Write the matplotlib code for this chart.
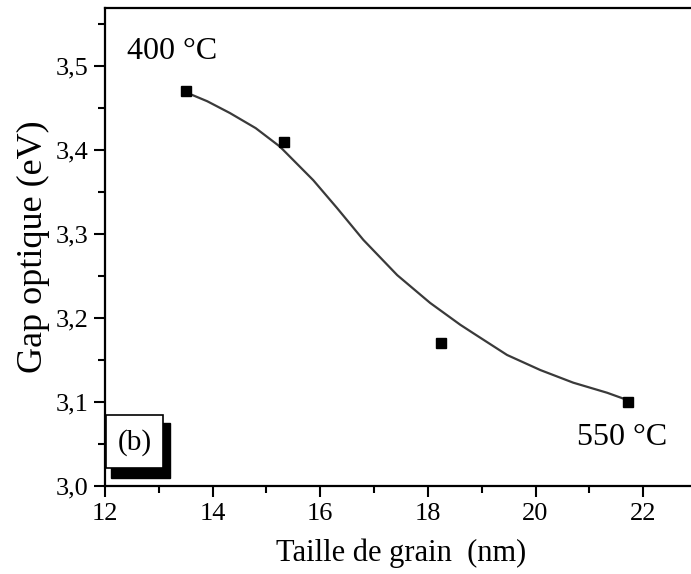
import matplotlib
matplotlib.use("Agg")
import matplotlib.pyplot as plt
from matplotlib.patches import Rectangle
from matplotlib.ticker import MultipleLocator, FuncFormatter

# Data
grain_size = [13.5, 15.33, 18.25, 21.72]
gap = [3.47, 3.41, 3.17, 3.10]

# Fitted curve
fit_x = [13.49, 13.90, 14.32, 14.80, 15.25, 15.87, 16.31, 16.80, 17.43, 18.04, 18.60, 18.84,
         19.47, 20.09, 20.70, 21.33, 21.72]
fit_y = [3.469, 3.458, 3.444, 3.426, 3.404, 3.364, 3.331, 3.293, 3.251, 3.218, 3.192, 3.182,
         3.156, 3.138, 3.123, 3.111, 3.102]

x_ticks = [12, 14, 16, 18, 20, 22]
y_ticks = [3.0, 3.1, 3.2, 3.3, 3.4, 3.5]

plt.rcParams['font.family'] = ['Liberation Serif', 'DejaVu Serif']

fig = plt.figure(figsize=(6.91, 5.74), dpi=100)
ax = fig.add_axes([105/691, 1-486/574, (697-105)/691, (486-8)/574])

ax.plot(fit_x, fit_y, color='#3a3a3a', lw=1.6, zorder=2, solid_joinstyle='round')
ax.plot(grain_size, gap, ls='none', marker='s', ms=6.5, color='black', zorder=3)

ax.set_xlim(12, 23)
ax.set_ylim(3.0, 3.569)
ax.set_xticks(x_ticks)
ax.set_yticks(y_ticks)
ax.xaxis.set_minor_locator(MultipleLocator(1))
ax.yaxis.set_minor_locator(MultipleLocator(0.05))
ax.yaxis.set_major_formatter(FuncFormatter(lambda v, p: f"{v:.1f}".replace('.', ',')))

for s in ['left', 'bottom', 'top', 'right']:
    ax.spines[s].set_linewidth(1.6)
ax.tick_params(which='major', direction='out', length=8, width=1.5, labelsize=19, pad=4)
ax.tick_params(which='minor', direction='out', length=5, width=1.5)
ax.tick_params(top=False, right=False, which='both')

ax.set_xlabel('Taille de grain  (nm)', fontsize=22, labelpad=10)
ax.set_ylabel('Gap optique (eV)', fontsize=26, labelpad=4)

ax.text(13.25, 3.517, '400 °C', fontsize=23, ha='center', va='center')
ax.text(21.61, 3.058, '550 °C', fontsize=23, ha='center', va='center')

# (b) label box with shadow
shadow = Rectangle((0.010, 0.017), 0.100, 0.115, transform=ax.transAxes,
                   facecolor='black', edgecolor='black', zorder=4, clip_on=False)
box = Rectangle((0.002, 0.037), 0.096, 0.111, transform=ax.transAxes,
                facecolor='white', edgecolor='black', lw=1.2, zorder=5, clip_on=False)
ax.add_patch(shadow)
ax.add_patch(box)
ax.text(0.05, 0.091, '(b)', transform=ax.transAxes, fontsize=21,
        ha='center', va='center', zorder=6)

fig.savefig('out.png', dpi=100)
